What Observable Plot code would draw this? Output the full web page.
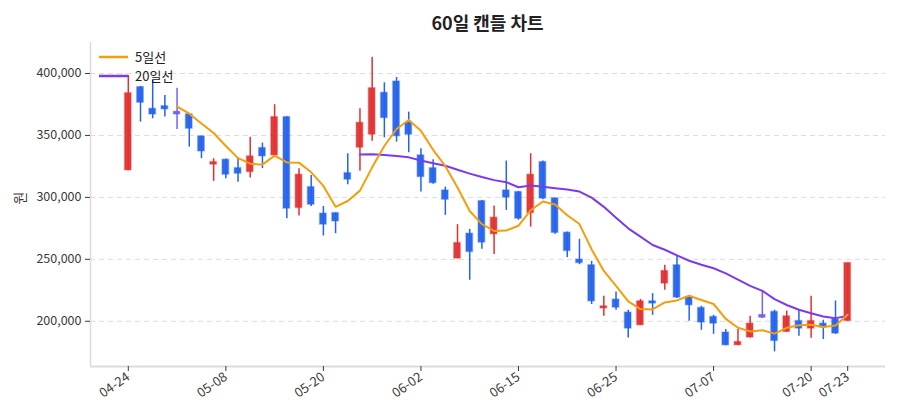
<!DOCTYPE html>
<html>
<head>
<meta charset="utf-8">
<script src="https://cdn.jsdelivr.net/npm/d3@7"></script>
<script src="https://cdn.jsdelivr.net/npm/@observablehq/plot@0.6"></script>
<style>
  body { margin: 0; background: #fff; font-family: "Noto Sans CJK KR", "Noto Sans", sans-serif; }
  #wrap { position: relative; width: 900px; height: 420px; overflow: hidden; }
  #title { position: absolute; left: 90px; width: 795px; top: 0; height: 40px; line-height: 44px;
           text-align: center; font-size: 18px; font-weight: bold; color: #222; }
  #chart { position: absolute; top: 40px; left: 0; }
  #legend { position: absolute; left: 99px; top: 47px; font-size: 13px; color: #222; line-height: 19px; }
  #legend div { display: flex; align-items: center; height: 19px; }
  #legend svg { margin-right: 7px; }
</style>
</head>
<body>
<div id="wrap">
  <div id="title">60일 캔들 차트</div>
  <div id="chart"></div>
  <div id="legend"></div>
</div>
<script>
const dates = ["04-24","04-25","04-27","04-28","04-30","05-01","05-04","05-06","05-08",
  "05-09","05-11","05-12","05-13","05-15","05-17","05-18","05-20",
  "05-21","05-23","05-24","05-26","05-28","05-29","05-31","06-02",
  "06-03","06-05","06-06","06-08","06-10","06-11","06-13","06-15",
  "06-16","06-17","06-19","06-20","06-21","06-23","06-24","06-25",
  "06-27","06-28","06-30","07-01","07-02","07-04","07-05","07-07",
  "07-08","07-10","07-12","07-13","07-15","07-16","07-18","07-20",
  "07-21","07-22","07-23"];
const opens = [321800,389000,371500,373600,368000,367000,349200,326400,330400,323600,
  320400,339800,333900,364800,291400,308300,286900,287300,319600,340100,
  350600,384400,393500,360200,333900,323600,305600,250600,270700,297000,
  270200,305600,304300,287300,328500,299200,271500,249800,245200,210300,
  217500,207000,196800,216100,230400,245200,219600,210800,203500,190900,
  180600,186900,204000,207600,191400,200200,194100,198100,201400,200200];
const highs = [398400,389500,394400,382300,388100,367500,349500,331200,331000,331700,
  348600,343800,374800,365000,323200,317700,292700,287500,335200,371500,
  413100,392500,396800,368800,339300,330400,308300,278000,274200,297500,
  293000,329300,304800,335200,329300,299500,272000,266100,248400,220200,
  223600,208900,217700,222300,245200,252400,220000,212100,204800,193300,
  193300,204000,225000,208900,208300,208900,220200,200800,216400,247000];
const lows = [321500,360700,363500,364800,354800,340600,331200,312900,315100,312300,
  315600,323200,332500,282800,284900,292700,268800,270700,310200,321000,
  345200,348100,344600,336000,304300,310500,285500,250400,233100,258100,
  253800,289500,281500,276000,298100,270200,251400,245700,213500,204000,
  208900,186600,196500,204800,225000,218300,200000,192700,189500,180200,
  180400,186500,202200,175300,191000,187900,186200,185300,189500,200000];
const closes = [384100,376400,366900,371000,368000,355400,337100,328500,318300,319100,
  333100,333100,364800,290900,318300,294100,278000,280600,314300,360200,
  388100,364000,349400,350600,316400,311500,298100,263200,255900,263500,
  283600,299800,282800,318300,299000,271300,256700,247000,216100,212100,
  211000,194100,216100,214300,240600,219100,212900,199000,198100,180600,
  183300,198100,204000,184100,204000,194100,200200,194900,190100,247000];
const xTickIdx = [0, 8, 16, 24, 32, 40, 48, 56, 59];
const yTicks = [200000, 250000, 300000, 350000, 400000];

const UP = "#e03131", DOWN = "#2563eb", FLAT = "#6e66f2";
const MA5 = "#f59e0b", MA20 = "#7c3aed";

const candles = dates.map((d, i) => ({
  i, date: d, open: opens[i], high: highs[i], low: lows[i], close: closes[i],
  color: closes[i] > opens[i] ? UP : closes[i] < opens[i] ? DOWN : FLAT
}));
function movingAvg(k) {
  const out = [];
  for (let i = k - 1; i < closes.length; i++) {
    out.push({ i, v: d3.mean(closes.slice(i - k + 1, i + 1)) });
  }
  return out;
}
const ma5 = movingAvg(5);
const ma20 = movingAvg(20);
const dojis = candles.filter(d => d.open === d.close);
const bodies = candles.filter(d => d.open !== d.close);

const xDomain = [-3.1, 62.1];
const yDomain = [163500, 425000];
const half = 0.27;

const chart = Plot.plot({
  width: 900,
  height: 380,
  marginLeft: 90,
  marginRight: 15,
  marginTop: 2,
  marginBottom: 54,
  style: { fontFamily: '"Noto Sans CJK KR", "Noto Sans", sans-serif', fontSize: "12px", color: "#3a3a3a", background: "#fff" },
  x: { type: "linear", domain: xDomain },
  y: { type: "linear", domain: yDomain },
  marks: [
    Plot.gridY(yTicks, { stroke: "#dcdcdc", strokeOpacity: 1, strokeDasharray: "5,4" }),
    Plot.ruleX([xDomain[0]], { stroke: "#d9dce3", strokeWidth: 1.5 }),
    Plot.ruleY([yDomain[0]], { stroke: "#d9dce3", strokeWidth: 2 }),
    Plot.axisY({ ticks: yTicks, tickFormat: d3.format(","), tickSize: 5, tickPadding: 4, label: null, fontSize: 12.5 }),
    Plot.axisX({ ticks: xTickIdx, tickFormat: i => dates[i], tickRotate: -35, tickSize: 5, tickPadding: 4, label: null, fontSize: 13 }),
    Plot.ruleX(candles, { x: "i", y1: "low", y2: "high", stroke: "color", strokeWidth: 1.5 }),
    Plot.rect(bodies, { x1: d => d.i - half, x2: d => d.i + half, y1: "open", y2: "close",
      fill: "color", fillOpacity: 0.95, stroke: "color", strokeOpacity: 0.35, strokeWidth: 1.5 }),
    Plot.rect(dojis, { x1: d => d.i - half, x2: d => d.i + half, y1: "open", y2: "close",
      insetTop: -1.5, insetBottom: -1.5, fill: "color", stroke: "color", strokeOpacity: 0.35, strokeWidth: 1 }),
    Plot.line(ma20, { x: "i", y: "v", stroke: MA20, strokeWidth: 2 }),
    Plot.line(ma5, { x: "i", y: "v", stroke: MA5, strokeWidth: 2 }),
    Plot.text(["원"], { frameAnchor: "left", dx: -70, rotate: -90, text: d => d, fontSize: 14, fill: "#3a3a3a" })
  ]
});
document.getElementById("chart").appendChild(chart);

const legendItems = [["5일선", MA5], ["20일선", MA20]];
const legend = document.getElementById("legend");
for (const [label, color] of legendItems) {
  const row = document.createElement("div");
  row.innerHTML = `<svg width="29" height="4"><line x1="0" y1="2" x2="29" y2="2" stroke="${color}" stroke-width="2.5"/></svg><span>${label}</span>`;
  legend.appendChild(row);
}
</script>
</body>
</html>
